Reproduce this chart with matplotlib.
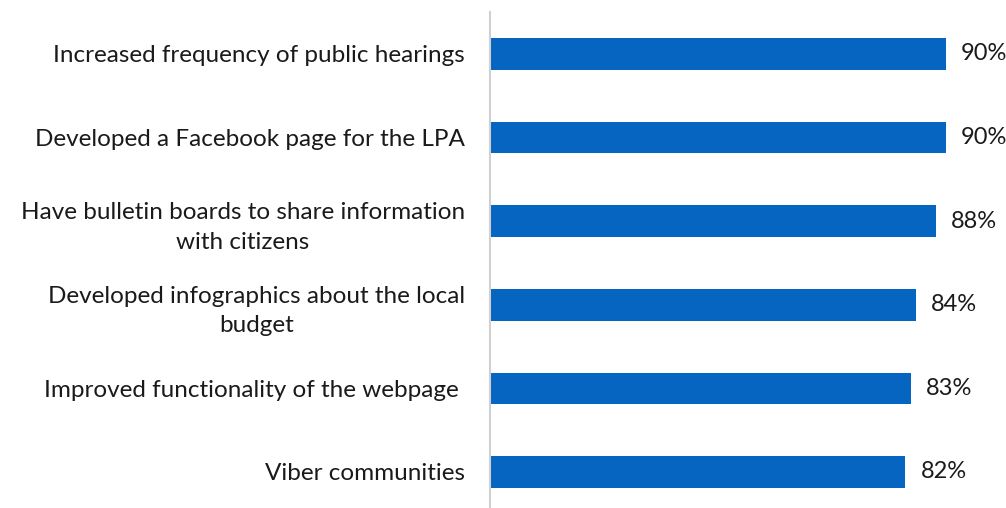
import matplotlib
matplotlib.use("Agg")
import matplotlib.pyplot as plt

categories = [
    "Increased frequency of public hearings",
    "Developed a Facebook page for the LPA",
    "Have bulletin boards to share information\nwith citizens",
    "Developed infographics about the local\nbudget",
    "Improved functionality of the webpage ",
    "Viber communities",
]
values = [90, 90, 88, 84, 83, 82]
value_labels = ["90%", "90%", "88%", "84%", "83%", "82%"]

plt.rcParams['font.family'] = ['Lato', 'DejaVu Sans']

W, H = 1006, 508
fig = plt.figure(figsize=(W / 100, H / 100), dpi=100)
left, right = 490 / W, 996.7 / W
top_px, bot_px = 12.2, 508
ax = fig.add_axes([left, 1 - bot_px / H, right - left, (bot_px - top_px) / H])

pos = list(range(len(categories)))
ax.barh(pos, values, height=0.38, color="#0565C0")
ax.set_xlim(0, 100)
ax.set_ylim(-0.5 + (bot_px - top_px) / 83.6, -0.5)

for p, v, lab in zip(pos, values, value_labels):
    ax.text(v + 3.0, p, lab, va="center", ha="left", fontsize=17, color="#1a1a1a")

ax.set_yticks(pos)
ax.set_yticklabels(categories, fontsize=17.5, color="#1a1a1a", multialignment="center",
                   linespacing=1.5)
ax.tick_params(axis="y", length=0, pad=18)
ax.set_xticks([])
for s in ["top", "right", "bottom"]:
    ax.spines[s].set_visible(False)
ax.spines["left"].set_color("#d0d0d0")
ax.spines["left"].set_linewidth(1.5)

fig.savefig("out.png", dpi=100)
